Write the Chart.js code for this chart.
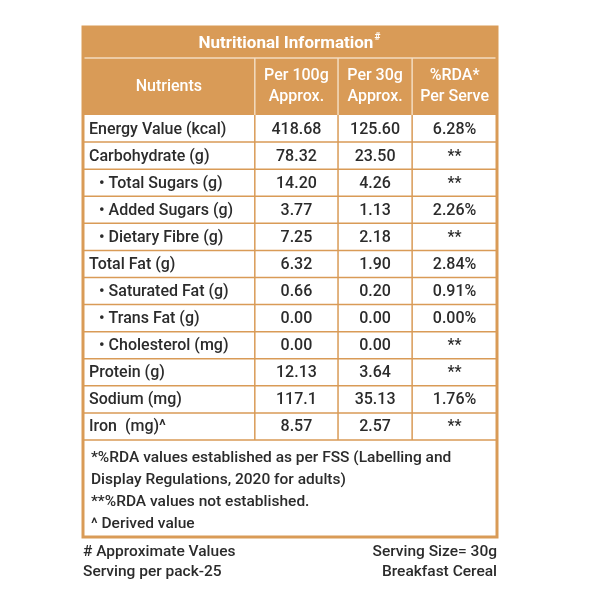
<!DOCTYPE html>
<html><head><meta charset="utf-8">
<script src="https://cdn.jsdelivr.net/npm/chart.js@4"></script>
<style>body{margin:0;background:#fff}#c{display:block}</style>
</head><body>
<div style="width:600px;height:600px"><canvas id="c"></canvas></div>
<script>
const nutrients = ["Energy Value (kcal)", "Carbohydrate (g)", "• Total Sugars (g)", "• Added Sugars (g)", "• Dietary Fibre (g)",
    "Total Fat (g)", "• Saturated Fat (g)", "• Trans Fat (g)", "• Cholesterol (mg)", "Protein (g)", "Sodium (mg)", "Iron  (mg)^"];
const per100g = ["418.68", "78.32", "14.20", "3.77", "7.25", "6.32", "0.66", "0.00", "0.00", "12.13", "117.1", "8.57"];
const per30g = ["125.60", "23.50", "4.26", "1.13", "2.18", "1.90", "0.20", "0.00", "0.00", "3.64", "35.13", "2.57"];
const rdaPerServe = ["6.28%", "**", "**", "2.26%", "**", "2.84%", "0.91%", "0.00%", "**", "**", "1.76%", "**"];
const headers = [["Nutrients"], ["Per 100g", "Approx."], ["Per 30g", "Approx."], ["%RDA*", "Per Serve"]];
const footnotes = ["*%RDA values established as per FSS (Labelling and", "Display Regulations, 2020 for adults)", "**%RDA values not established.", "^ Derived value"];

const ORANGE = "#D99B57";
const TEXT = "#2b2b2b";
const FONT = "Roboto, 'DejaVu Sans', sans-serif";
const colFrac = [0, 0.415, 0.616, 0.795, 1];

const tablePlugin = {
    id: "tablePlugin",
    afterDraw(chart) {
        const ctx = chart.ctx;
        const a = chart.chartArea;
        const y = chart.scales.y;
        const rowH = (a.bottom - a.top) / nutrients.length;
        const xs = colFrac.map(f => a.left + f * (a.right - a.left));
        const top = 27, headTop = 58, footBottom = 537;
        ctx.save();
        // header band
        ctx.fillStyle = ORANGE;
        ctx.fillRect(a.left, top, a.right - a.left, a.top - top);
        ctx.strokeStyle = "#f3dcc0";
        ctx.lineWidth = 1.5;
        ctx.beginPath();
        ctx.moveTo(a.left, headTop); ctx.lineTo(a.right, headTop);
        for (let i = 1; i < 4; i++) { ctx.moveTo(xs[i], headTop); ctx.lineTo(xs[i], a.top); }
        ctx.stroke();
        ctx.fillStyle = "#fff";
        ctx.textAlign = "center";
        ctx.textBaseline = "middle";
        ctx.font = "bold 17px " + FONT;
        ctx.fillText("Nutritional Information", (a.left + a.right) / 2 - 4, (top + headTop) / 2 + 1);
        const tw = ctx.measureText("Nutritional Information").width;
        ctx.font = "bold 10px " + FONT;
        ctx.fillText("#", (a.left + a.right) / 2 - 4 + tw / 2 + 4, top + 10);
        ctx.font = "500 16px " + FONT;
        headers.forEach((lines, i) => {
            const cx = (xs[i] + xs[i + 1]) / 2;
            const cy = (headTop + a.top) / 2;
            lines.forEach((t, k) => ctx.fillText(t, cx, cy + (k - (lines.length - 1) / 2) * 21));
        });
        // body grid
        ctx.strokeStyle = ORANGE;
        ctx.lineWidth = 1.5;
        ctx.beginPath();
        for (let i = 1; i < nutrients.length; i++) {
            const yy = a.top + i * rowH;
            ctx.moveTo(a.left, yy); ctx.lineTo(a.right, yy);
        }
        for (let i = 1; i < 4; i++) { ctx.moveTo(xs[i], a.top); ctx.lineTo(xs[i], a.bottom); }
        ctx.moveTo(a.left, a.bottom); ctx.lineTo(a.right, a.bottom);
        ctx.stroke();
        // cells
        ctx.fillStyle = TEXT;
        ctx.font = "500 16px " + FONT;
        nutrients.forEach((n, i) => {
            const cy = y.getPixelForValue(i) + 1;
            ctx.textAlign = "left";
            ctx.fillText(n, xs[0] + 6 + (n.startsWith("•") ? 10 : 0), cy);
            ctx.textAlign = "center";
            ctx.fillText(per100g[i], (xs[1] + xs[2]) / 2, cy);
            ctx.fillText(per30g[i], (xs[2] + xs[3]) / 2, cy);
            ctx.fillText(rdaPerServe[i], (xs[3] + xs[4]) / 2, cy);
        });
        // footnotes
        ctx.textAlign = "left";
        ctx.font = "500 15.5px " + FONT;
        footnotes.forEach((t, k) => ctx.fillText(t, xs[0] + 8, a.bottom + 18 + k * 22));
        // outer border
        ctx.strokeStyle = ORANGE;
        ctx.lineWidth = 3;
        ctx.strokeRect(a.left, top, a.right - a.left, footBottom - top);
        // below box
        ctx.fillText("# Approximate Values", a.left, 552);
        ctx.fillText("Serving per pack-25", a.left, 572);
        ctx.textAlign = "right";
        ctx.fillText("Serving Size= 30g", a.right, 552);
        ctx.fillText("Breakfast Cereal", a.right, 572);
        ctx.restore();
    }
};

new Chart(document.getElementById("c"), {
    type: "bar",
    data: { labels: nutrients, datasets: [{ data: nutrients.map(() => null) }] },
    options: {
        indexAxis: "y",
        responsive: true,
        maintainAspectRatio: false,
        animation: false,
        layout: { padding: { left: 83, right: 103, top: 115, bottom: 160 } },
        plugins: { legend: { display: false }, tooltip: { enabled: false } },
        scales: {
            y: { type: "category", display: false, offset: true },
            x: { display: false, min: 0, max: 1 }
        }
    },
    plugins: [tablePlugin]
});
</script>
</body></html>
